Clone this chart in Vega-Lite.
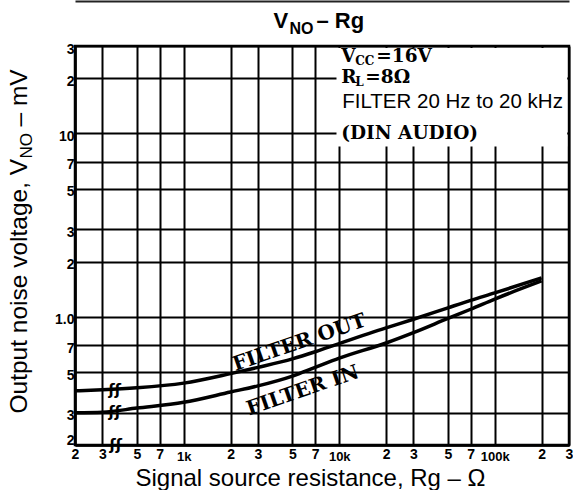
{
  "$schema": "https://vega.github.io/schema/vega-lite/v6.json",
  "width": 494,
  "height": 399,
  "autosize": {"type": "none"},
  "padding": {"left": 75, "top": 46, "right": 4, "bottom": 45},
  "background": "white",
  "config": {"view": {"stroke": "black", "strokeWidth": 2.5}},
  "datasets": {
    "curves": [
      {"series": "FILTER OUT", "x": 200, "y": 0.395},
      {"series": "FILTER OUT", "x": 300, "y": 0.4},
      {"series": "FILTER OUT", "x": 500, "y": 0.41},
      {"series": "FILTER OUT", "x": 1000, "y": 0.435},
      {"series": "FILTER OUT", "x": 2000, "y": 0.49},
      {"series": "FILTER OUT", "x": 3000, "y": 0.53},
      {"series": "FILTER OUT", "x": 5000, "y": 0.59},
      {"series": "FILTER OUT", "x": 7000, "y": 0.645},
      {"series": "FILTER OUT", "x": 10000, "y": 0.715},
      {"series": "FILTER OUT", "x": 20000, "y": 0.87},
      {"series": "FILTER OUT", "x": 30000, "y": 0.97},
      {"series": "FILTER OUT", "x": 50000, "y": 1.12},
      {"series": "FILTER OUT", "x": 70000, "y": 1.23},
      {"series": "FILTER OUT", "x": 100000, "y": 1.35},
      {"series": "FILTER OUT", "x": 200000, "y": 1.63},
      {"series": "FILTER IN", "x": 200, "y": 0.3},
      {"series": "FILTER IN", "x": 300, "y": 0.302},
      {"series": "FILTER IN", "x": 500, "y": 0.318},
      {"series": "FILTER IN", "x": 1000, "y": 0.342},
      {"series": "FILTER IN", "x": 2000, "y": 0.389},
      {"series": "FILTER IN", "x": 3000, "y": 0.42},
      {"series": "FILTER IN", "x": 5000, "y": 0.475},
      {"series": "FILTER IN", "x": 7000, "y": 0.53},
      {"series": "FILTER IN", "x": 10000, "y": 0.595},
      {"series": "FILTER IN", "x": 20000, "y": 0.72},
      {"series": "FILTER IN", "x": 30000, "y": 0.82},
      {"series": "FILTER IN", "x": 50000, "y": 0.98},
      {"series": "FILTER IN", "x": 70000, "y": 1.1},
      {"series": "FILTER IN", "x": 100000, "y": 1.25},
      {"series": "FILTER IN", "x": 200000, "y": 1.57}
    ],
    "labels": [
      {"label": "FILTER OUT", "x": 5540, "y": 0.723},
      {"label": "FILTER IN", "x": 5830, "y": 0.396}
    ],
    "notes": [
      {"kind": "lead", "x": 10000, "y": 24.5, "text": "V"},
      {"kind": "sub", "x": 10000, "y": 24.5, "text": "CC"},
      {"kind": "rest1", "x": 10000, "y": 24.5, "text": "=16V"},
      {"kind": "lead", "x": 10000, "y": 18.74, "text": "R"},
      {"kind": "sub", "x": 10000, "y": 18.74, "text": "L"},
      {"kind": "rest2", "x": 10000, "y": 18.74, "text": "=8Ω"},
      {"kind": "sans", "x": 10000, "y": 13.77, "text": "FILTER 20 Hz to 20 kHz"},
      {"kind": "lead", "x": 10000, "y": 9.34, "text": "(DIN AUDIO)"}
    ],
    "box": [{"x": 9600, "x2": 292000, "y": 29.3, "y2": 8.5}],
    "breaks": [
      {"x": 360, "y": 0.4},
      {"x": 360, "y": 0.302},
      {"x": 366, "y": 0.2}
    ]
  },
  "resolve": {"axis": {"x": "independent", "y": "independent"}},
  "layer": [
    {
      "data": {"name": "box"},
      "mark": {"type": "rect", "fill": "white", "stroke": null},
      "encoding": {
        "x": {"field": "x", "type": "quantitative", "scale": {"type": "log", "domain": [200, 300000], "nice": false}, "axis": null},
        "x2": {"field": "x2"},
        "y": {"field": "y", "type": "quantitative", "scale": {"type": "log", "domain": [0.2, 30], "nice": false}, "axis": null},
        "y2": {"field": "y2"}
      }
    },
    {
      "data": {"name": "curves"},
      "mark": {"type": "line", "color": "black", "strokeWidth": 3.5, "interpolate": "monotone"},
      "encoding": {
        "detail": {"field": "series"},
        "x": {
          "field": "x", "type": "quantitative",
          "scale": {"type": "log", "domain": [200, 300000], "nice": false},
          "axis": {
            "orient": "bottom",
            "values": [200, 300, 500, 700, 1000, 2000, 3000, 5000, 7000, 10000, 20000, 30000, 50000, 70000, 100000, 200000, 300000],
            "labelExpr": "datum.value == 1000 ? ['', '1k'] : datum.value == 10000 ? ['', '10k'] : datum.value == 100000 ? ['', '100k'] : slice(toString(datum.value), 0, 1)",
            "labelLineHeight": 3,
            "labelFont": "Liberation Sans",
            "labelFontWeight": "bold",
            "labelFontSize": {"condition": {"test": "datum.value == 1000 || datum.value == 10000 || datum.value == 100000", "value": 13}, "value": 14},
            "labelPadding": 2,
            "labelBaseline": "top",
            "labelColor": "black",
            "labelFlush": false,
            "labelOverlap": false,
            "labelBound": false,
            "ticks": false,
            "tickSize": 0,
            "domainColor": "black",
            "domainWidth": 2.5,
            "grid": true,
            "gridColor": "black",
            "gridWidth": 2,
            "gridOpacity": 1,
            "title": "Signal source resistance, Rg – Ω",
            "titleFont": "Liberation Sans",
            "titleFontSize": 24,
            "titleFontWeight": "normal",
            "titleColor": "black",
            "titleX": 235,
            "titleY": 40,
            "titleAlign": "center",
            "titleBaseline": "alphabetic"
          }
        },
        "y": {
          "field": "y", "type": "quantitative",
          "scale": {"type": "log", "domain": [0.2, 30], "nice": false},
          "axis": {
            "orient": "left",
            "values": [0.2, 0.3, 0.5, 0.7, 1, 2, 3, 5, 7, 10, 20, 30],
            "labelExpr": "datum.value == 1 ? '1.0' : datum.value == 10 ? '10' : datum.value < 1 ? toString(round(datum.value * 10)) : datum.value >= 20 ? toString(round(datum.value / 10)) : toString(datum.value)",
            "labelFont": "Liberation Sans",
            "labelFontWeight": "bold",
            "labelFontSize": 14,
            "labelColor": "black",
            "labelPadding": 1,
            "labelOffset": {"condition": {"test": "datum.value == 0.2", "value": -5}, "value": 3},
            "labelBaseline": "middle",
            "labelAlign": "right",
            "labelFlush": false,
            "labelOverlap": false,
            "labelBound": false,
            "ticks": false,
            "tickSize": 0,
            "domainColor": "black",
            "domainWidth": 2.5,
            "grid": true,
            "gridColor": "black",
            "gridWidth": 2,
            "gridOpacity": 1,
            "title": "Output noise voltage, V",
            "titleFont": "Liberation Sans",
            "titleFontSize": 24.5,
            "titleFontWeight": "normal",
            "titleColor": "black",
            "titleAngle": 270,
            "titleX": -49,
            "titleY": 367,
            "titleAlign": "left",
            "titleBaseline": "alphabetic"
          }
        }
      }
    },
    {
      "data": {"name": "labels"},
      "mark": {"type": "text", "font": "DejaVu Serif", "fontWeight": "bold", "fontSize": 20, "angle": 341, "align": "center", "baseline": "middle", "color": "black"},
      "encoding": {
        "x": {
          "field": "x", "type": "quantitative",
          "axis": {
            "orient": "top", "labels": false, "ticks": false, "domain": false, "grid": false,
            "title": "V", "titleFont": "Liberation Sans", "titleFontSize": 22, "titleFontWeight": "bold", "titleColor": "black",
            "titleX": 198, "titleY": -19, "titleAlign": "left", "titleBaseline": "alphabetic"
          }
        },
        "y": {
          "field": "y", "type": "quantitative",
          "axis": {
            "orient": "right", "labels": false, "ticks": false, "domain": false, "grid": false,
            "title": "NO", "titleFont": "Liberation Sans", "titleFontSize": 17, "titleFontWeight": "normal", "titleColor": "black",
            "titleAngle": 270, "titleX": -538, "titleY": 112, "titleAlign": "left", "titleBaseline": "alphabetic"
          }
        },
        "text": {"field": "label"}
      }
    },
    {
      "data": {"name": "notes"},
      "transform": [{"filter": "datum.kind == 'lead'"}],
      "mark": {"type": "text", "font": "DejaVu Serif", "fontWeight": "bold", "fontSize": 18.5, "align": "left", "baseline": "alphabetic", "dx": 2, "color": "black"},
      "encoding": {
        "x": {
          "field": "x", "type": "quantitative",
          "axis": {
            "orient": "top", "labels": false, "ticks": false, "domain": false, "grid": false,
            "title": "NO", "titleFont": "Liberation Sans", "titleFontSize": 16, "titleFontWeight": "bold", "titleColor": "black",
            "titleX": 214, "titleY": -13, "titleAlign": "left", "titleBaseline": "alphabetic"
          }
        },
        "y": {
          "field": "y", "type": "quantitative",
          "axis": {
            "orient": "right", "labels": false, "ticks": false, "domain": false, "grid": false,
            "title": "– mV", "titleFont": "Liberation Sans", "titleFontSize": 24.5, "titleFontWeight": "normal", "titleColor": "black",
            "titleAngle": 270, "titleX": -543, "titleY": 80, "titleAlign": "left", "titleBaseline": "alphabetic"
          }
        },
        "text": {"field": "text"}
      }
    },
    {
      "data": {"name": "notes"},
      "transform": [{"filter": "datum.kind == 'sub'"}],
      "mark": {"type": "text", "font": "DejaVu Serif", "fontWeight": "bold", "fontSize": 12, "align": "left", "baseline": "alphabetic", "dx": 16, "dy": 3, "color": "black"},
      "encoding": {
        "x": {
          "field": "x", "type": "quantitative",
          "axis": {
            "orient": "top", "offset": 45, "labels": false, "ticks": false, "grid": false,
            "domain": true, "domainColor": "#222222", "domainWidth": 2,
            "title": "– Rg", "titleFont": "Liberation Sans", "titleFontSize": 22, "titleFontWeight": "bold", "titleColor": "black",
            "titleX": 241, "titleY": 26, "titleAlign": "left", "titleBaseline": "alphabetic"
          }
        },
        "y": {"field": "y", "type": "quantitative", "axis": null},
        "text": {"field": "text"}
      }
    },
    {
      "data": {"name": "notes"},
      "transform": [{"filter": "datum.kind == 'rest1'"}],
      "mark": {"type": "text", "font": "DejaVu Serif", "fontWeight": "bold", "fontSize": 18.5, "align": "left", "baseline": "alphabetic", "dx": 37, "color": "black"},
      "encoding": {
        "x": {"field": "x", "type": "quantitative", "axis": null},
        "y": {"field": "y", "type": "quantitative", "axis": null},
        "text": {"field": "text"}
      }
    },
    {
      "data": {"name": "notes"},
      "transform": [{"filter": "datum.kind == 'rest2'"}],
      "mark": {"type": "text", "font": "DejaVu Serif", "fontWeight": "bold", "fontSize": 18.5, "align": "left", "baseline": "alphabetic", "dx": 26, "color": "black"},
      "encoding": {
        "x": {"field": "x", "type": "quantitative", "axis": null},
        "y": {"field": "y", "type": "quantitative", "axis": null},
        "text": {"field": "text"}
      }
    },
    {
      "data": {"name": "notes"},
      "transform": [{"filter": "datum.kind == 'sans'"}],
      "mark": {"type": "text", "font": "Liberation Sans", "fontSize": 20.5, "align": "left", "baseline": "alphabetic", "dx": 3, "color": "black"},
      "encoding": {
        "x": {"field": "x", "type": "quantitative", "axis": null},
        "y": {"field": "y", "type": "quantitative", "axis": null},
        "text": {"field": "text"}
      }
    },
    {
      "data": {"name": "breaks"},
      "mark": {"type": "text", "font": "DejaVu Sans", "fontWeight": "bold", "fontSize": 15, "align": "center", "baseline": "middle", "text": "ʃʃ", "color": "black"},
      "encoding": {
        "x": {"field": "x", "type": "quantitative", "axis": null},
        "y": {"field": "y", "type": "quantitative", "axis": null}
      }
    }
  ]
}
